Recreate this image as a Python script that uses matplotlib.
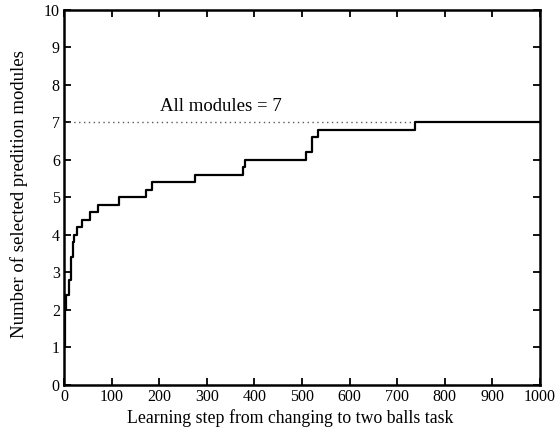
import matplotlib

matplotlib.use("Agg")

import matplotlib.pyplot as plt

# pasos de aprendizaje donde cambia el numero de modulos (escalones)
steps = [0, 2, 3, 5, 10, 15, 18, 22, 27, 37, 55, 72, 116, 172, 184,
         275, 375, 380, 508, 520, 533, 738, 1000]
modules = [1.0, 1.4, 2.0, 2.4, 2.8, 3.4, 3.8, 4.0, 4.2, 4.4, 4.6, 4.8, 5.0,
           5.2, 5.4, 5.6, 5.8, 6.0, 6.2, 6.6, 6.8, 7.0, 7.0]

all_modules = 7
dotted_end = 738

plt.rcParams["font.family"] = ["Liberation Serif", "DejaVu Serif"]

fig = plt.figure(figsize=(5.55, 4.32), dpi=100)
ax = fig.add_axes([0.1153, 0.1088, 0.8577, 0.8681])

ax.plot([0, dotted_end], [all_modules, all_modules], color="0.35",
        linestyle=(0, (1, 2.5)), linewidth=1.0)
ax.plot(steps, modules, drawstyle="steps-post", color="black", linewidth=1.6)
ax.text(330, all_modules + 0.2, f"All modules = {all_modules}",
        ha="center", va="bottom", fontsize=13.5)

ax.set_xlim(0, 1000)
ax.set_ylim(0, 10)
ax.set_xticks(range(0, 1001, 100))
ax.set_yticks(range(0, 11))
ax.tick_params(direction="in", top=True, right=True, length=5, width=1.3,
               labelsize=11.5, pad=3)
for s in ax.spines.values():
    s.set_linewidth(1.8)

ax.set_xlabel("Learning step from changing to two balls task", fontsize=12.8)
ax.set_ylabel("Number of selected predition modules", fontsize=13.5)
ax.xaxis.set_label_coords(0.475, -0.065)
ax.yaxis.set_label_coords(-0.076, 0.51)

fig.savefig("out.png")
